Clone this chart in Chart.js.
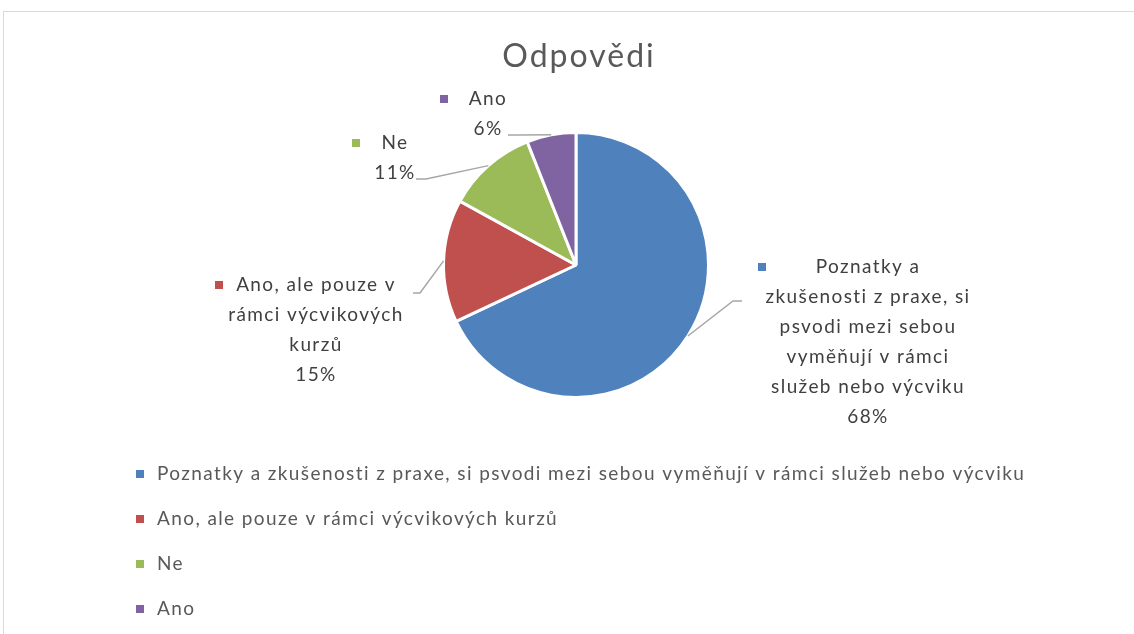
<!DOCTYPE html>
<html>
<head>
<meta charset="utf-8">
<script src="https://cdn.jsdelivr.net/npm/chart.js@4.4.1/dist/chart.umd.min.js"></script>
<style>
  html, body { margin: 0; padding: 0; background: #fff; overflow: hidden; }
  canvas { display: block; }
</style>
</head>
<body>
<canvas id="chart" width="1134" height="634"></canvas>
<script>
const title = 'Odpovědi'
const categories = [
  'Poznatky a zkušenosti z praxe, si psvodi mezi sebou vyměňují v rámci služeb nebo výcviku',
  'Ano, ale pouze v rámci výcvikových kurzů',
  'Ne',
  'Ano',
]
const values = [68, 15, 11, 6]
const colors = ['#4F81BD', '#C0504D', '#9BBB59', '#8064A2']

// wrapped text of the labels beside the pie
const labelLines = [
  ['Poznatky a', 'zkušenosti z praxe, si', 'psvodi mezi sebou', 'vyměňují v rámci', 'služeb nebo výcviku'],
  ['Ano, ale pouze v', 'rámci výcvikových', 'kurzů'],
  ['Ne'],
  ['Ano'],
]

// where each label box sits (text centre, first line, marker) and its leader line bend
const labelPos = [
  { x: 868, y: 267, mx: 762, bend: [733, 301], end: [742, 301] },
  { x: 316, y: 285, mx: 219, bend: [420, 293], end: [413, 293] },
  { x: 395, y: 143, mx: 356, bend: [426, 179], end: [416, 179] },
  { x: 488, y: 99, mx: 444, bend: [520, 135], end: [508, 135] },
]

const FONT = 'Lato, "Open Sans", sans-serif'
const TEXT = '#595959'

const decorations = {
  id: 'decorations',
  afterDraw(chart) {
    const ctx = chart.ctx
    const arcs = chart.getDatasetMeta(0).data
    const total = values.reduce((a, b) => a + b, 0)
    ctx.save()

    // chart frame
    ctx.strokeStyle = '#D9D9D9'
    ctx.lineWidth = 1
    ctx.strokeRect(3.5, 11.5, 1200, 700)

    // title
    ctx.fillStyle = TEXT
    ctx.font = `32px ${FONT}`
    ctx.letterSpacing = '2px'
    ctx.textAlign = 'center'
    ctx.textBaseline = 'middle'
    ctx.fillText(title, 579, 57)

    // leader lines
    ctx.strokeStyle = '#A6A6A6'
    ctx.lineWidth = 1.5
    arcs.forEach((arc, i) => {
      const p = arc.getProps(['x', 'y', 'startAngle', 'endAngle', 'outerRadius'], true)
      const mid = (p.startAngle + p.endAngle) / 2
      const sx = p.x + Math.cos(mid) * p.outerRadius
      const sy = p.y + Math.sin(mid) * p.outerRadius
      const lp = labelPos[i]
      ctx.beginPath()
      ctx.moveTo(sx, sy)
      ctx.lineTo(lp.bend[0], lp.bend[1])
      ctx.lineTo(lp.end[0], lp.end[1])
      ctx.stroke()
    })

    // data labels
    ctx.font = `19px ${FONT}`
    ctx.letterSpacing = '1.4px'
    ctx.fillStyle = '#404040'
    labelLines.forEach((lines, i) => {
      const lp = labelPos[i]
      const all = [...lines, Math.round((values[i] / total) * 100) + '%']
      all.forEach((t, j) => ctx.fillText(t, lp.x, lp.y + j * 30))
      ctx.fillStyle = colors[i]
      ctx.fillRect(lp.mx - 4, lp.y - 4, 8, 8)
      ctx.fillStyle = '#404040'
    })

    // legend
    ctx.textAlign = 'left'
    categories.forEach((c, i) => {
      const y = 474 + i * 45
      ctx.fillStyle = colors[i]
      ctx.fillRect(136, y - 4, 8, 8)
      ctx.fillStyle = TEXT
      ctx.fillText(c, 157, y)
    })

    ctx.restore()
  },
}

new Chart(document.getElementById('chart'), {
  type: 'pie',
  data: {
    labels: categories,
    datasets: [
      {
        data: values,
        backgroundColor: colors,
        borderColor: '#FFFFFF',
        borderWidth: 3,
      },
    ],
  },
  options: {
    responsive: false,
    animation: false,
    layout: { padding: { top: 131, bottom: 235, left: 442, right: 424 } },
    plugins: {
      legend: { display: false },
      tooltip: { enabled: false },
    },
  },
  plugins: [decorations],
})
</script>
</body>
</html>
